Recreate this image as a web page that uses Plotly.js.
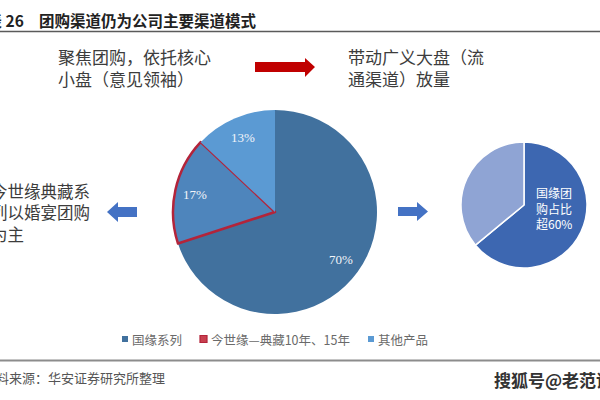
<!DOCTYPE html>
<html>
<head>
<meta charset="utf-8">
<script src="https://cdn.plot.ly/plotly-3.0.1.min.js"></script>
<style>html,body{margin:0;padding:0;background:#fff;}#chart{width:600px;height:400px;}</style>
</head>
<body>
<div id="chart"></div>
<script>
// ---- data ----
const mainLabels = ['国缘系列', '今世缘—典藏10年、15年', '其他产品'];
const mainValues = [70, 17, 13];
const mainColors = ['#41719E', '#4E85BC', '#5B9AD3'];
const smallLabels = ['国缘团购', '其他'];
const smallValues = [64, 36];
const smallColors = ['#3D67B1', '#8FA4D4'];
const titleText = '团购渠道仍为公司主要渠道模式';
const titleNo = '图表 26';
const leftTopText = '聚焦团购，依托核心<br>小盘（意见领袖）';
const rightTopText = '带动广义大盘（流<br>通渠道）放量';
const leftMidText = '今世缘典藏系<br>列以婚宴团购<br>为主';
const smallPieText = '国缘团<br>购占比<br>超60%';
const sourceText = '资料来源：华安证券研究所整理';
const watermark = '搜狐号@老范说酒';

const W = 600, H = 400;
const px = x => x / W;
const py = y => 1 - y / H;
const CJK = '"Noto Sans CJK SC", "Noto Sans", sans-serif';
const SERIF = '"Liberation Serif", "DejaVu Serif", serif';

function pathPx(pts) {
  return 'M' + pts.map(p => px(p[0]).toFixed(5) + ',' + py(p[1]).toFixed(5)).join(' L') + ' Z';
}

const mainDomain = {x: [px(173), px(377)], y: [py(314), py(110)]};

const traces = [
  {
    type: 'pie',
    labels: mainLabels,
    values: mainValues,
    sort: false,
    direction: 'clockwise',
    rotation: 0,
    domain: mainDomain,
    marker: {
      colors: mainColors,
      line: {color: ['rgba(0,0,0,0)', '#B3243A', 'rgba(0,0,0,0)'], width: [0, 2.5, 0]}
    },
    textinfo: 'none',
    hoverinfo: 'label+percent',
    showlegend: false
  },
  {
    type: 'pie',
    labels: smallLabels,
    values: smallValues,
    sort: false,
    direction: 'clockwise',
    rotation: 0,
    domain: {x: [px(461), px(587)], y: [py(268), py(142)]},
    marker: {colors: smallColors, line: {color: '#FFFFFF', width: 1.5}},
    textinfo: 'none',
    hoverinfo: 'label+percent',
    showlegend: false
  }
];

const shapes = [
  {type: 'line', xref: 'paper', yref: 'paper', x0: 0, x1: 1, y0: py(31.5), y1: py(31.5), line: {color: '#5A5A5A', width: 1.5}},
  {type: 'line', xref: 'paper', yref: 'paper', x0: 0, x1: 1, y0: py(360.5), y1: py(360.5), line: {color: '#8C8C8C', width: 2}},
  {type: 'path', xref: 'paper', yref: 'paper', fillcolor: '#C00000', line: {width: 0},
   path: pathPx([[255, 62], [305, 62], [305, 58], [315, 67], [305, 77], [305, 72], [255, 72]])},
  {type: 'path', xref: 'paper', yref: 'paper', fillcolor: '#4472C4', line: {width: 0},
   path: pathPx([[137, 207], [118, 207], [118, 202], [107, 212], [118, 222], [118, 217], [137, 217]])},
  {type: 'path', xref: 'paper', yref: 'paper', fillcolor: '#4472C4', line: {width: 0},
   path: pathPx([[398, 207], [417, 207], [417, 202], [428, 211.5], [417, 221], [417, 216], [398, 216]])}
];

const annotations = [];

// percentage labels of the main pie, placed along each slice's mid-angle
const total = mainValues.reduce((a, b) => a + b, 0);
const cx = (mainDomain.x[0] + mainDomain.x[1]) / 2 * W;
const cy = (1 - (mainDomain.y[0] + mainDomain.y[1]) / 2) * H;
const R = (mainDomain.x[1] - mainDomain.x[0]) * W / 2;
const labelR = 0.8 * R;
let cum = 0;
mainValues.forEach(v => {
  const mid = (cum + v / 2) / total * 2 * Math.PI;
  cum += v;
  annotations.push({xref: 'paper', yref: 'paper',
    x: px(cx + labelR * Math.sin(mid)), y: py(cy - labelR * Math.cos(mid)),
    xanchor: 'center', yanchor: 'middle', showarrow: false,
    text: Math.round(v / total * 100) + '%',
    font: {family: SERIF, size: 13, color: '#F2F5FA'}});
});

// custom legend
const legendX = [122, 200, 368];
const legendFill = [mainColors[0], '#C8404F', mainColors[2]];
const legendLine = [mainColors[0], '#B3243A', mainColors[2]];
mainLabels.forEach((lab, i) => {
  const x0 = legendX[i];
  const s = i === 1 ? 7 : 6;
  shapes.push({type: 'rect', xref: 'paper', yref: 'paper',
    x0: px(x0), x1: px(x0 + s), y0: py(339 + s / 2), y1: py(339 - s / 2),
    fillcolor: legendFill[i], line: {color: legendLine[i], width: i === 1 ? 1.2 : 0}});
  annotations.push({xref: 'paper', yref: 'paper', x: px(x0 + s + 2), y: py(339),
    xanchor: 'left', yanchor: 'middle', showarrow: false, text: lab,
    font: {family: CJK, size: 12.5, color: '#6A6A6A'}});
});

annotations.push(
  {xref: 'paper', yref: 'paper', x: px(26), y: py(20), xanchor: 'right', yanchor: 'middle', showarrow: false,
   text: '<b>' + titleNo + '</b>', font: {family: CJK, size: 15.5, color: '#222'}},
  {xref: 'paper', yref: 'paper', x: px(37), y: py(20), xanchor: 'left', yanchor: 'middle', showarrow: false,
   text: '<b>' + titleText + '</b>', font: {family: CJK, size: 15.5, color: '#222'}},
  {xref: 'paper', yref: 'paper', x: px(56), y: py(67.5), xanchor: 'left', yanchor: 'middle', showarrow: false, align: 'left',
   text: leftTopText, font: {family: CJK, size: 17, color: '#3C3C3C'}},
  {xref: 'paper', yref: 'paper', x: px(346), y: py(67), xanchor: 'left', yanchor: 'middle', showarrow: false, align: 'left',
   text: rightTopText, font: {family: CJK, size: 17, color: '#3C3C3C'}},
  {xref: 'paper', yref: 'paper', x: px(-11), y: py(212), xanchor: 'left', yanchor: 'middle', showarrow: false, align: 'left',
   text: leftMidText, font: {family: CJK, size: 16.5, color: '#3C3C3C'}},
  {xref: 'paper', yref: 'paper', x: px(534), y: py(208), xanchor: 'left', yanchor: 'middle', showarrow: false, align: 'left',
   text: smallPieText, font: {family: CJK, size: 12, color: '#FFFFFF'}},
  {xref: 'paper', yref: 'paper', x: px(167), y: py(377), xanchor: 'right', yanchor: 'middle', showarrow: false,
   text: sourceText, font: {family: CJK, size: 13, color: '#555'}},
  {xref: 'paper', yref: 'paper', x: px(492), y: py(379), xanchor: 'left', yanchor: 'middle', showarrow: false,
   text: '<b>' + watermark + '</b>', font: {family: CJK, size: 17, color: '#333'}}
);

const layout = {
  width: W, height: H,
  margin: {l: 0, r: 0, t: 0, b: 0},
  paper_bgcolor: '#FFFFFF',
  plot_bgcolor: '#FFFFFF',
  showlegend: false,
  shapes: shapes,
  annotations: annotations
};

Plotly.newPlot('chart', traces, layout, {displayModeBar: false, staticPlot: true});
</script>
</body>
</html>
